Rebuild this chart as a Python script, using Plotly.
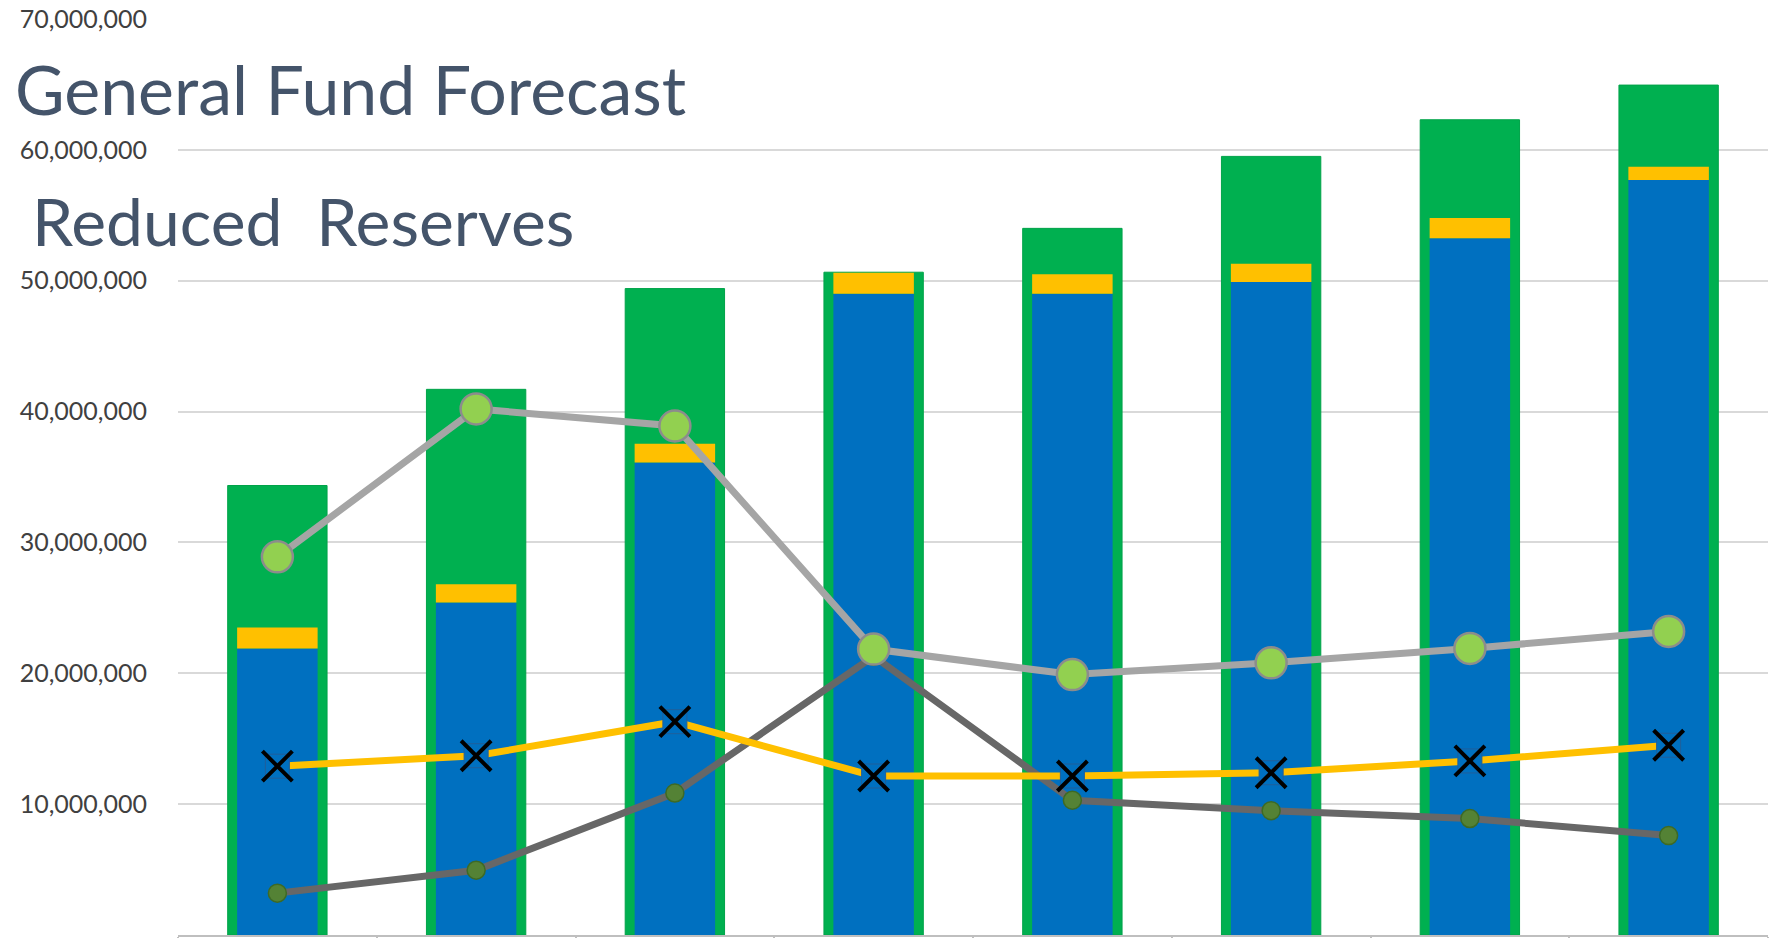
import plotly.graph_objects as go

categories = ["Year 1", "Year 2", "Year 3", "Year 4", "Year 5", "Year 6", "Year 7", "Year 8"]
total_resources = [34.35e6, 41.7e6, 49.4e6, 50.65e6, 54.0e6, 59.5e6, 62.3e6, 64.95e6]
expenditures = [21.9e6, 25.4e6, 36.1e6, 49.0e6, 49.0e6, 49.9e6, 53.25e6, 57.7e6]
reserve_transfer = [1.6e6, 1.4e6, 1.45e6, 1.6e6, 1.5e6, 1.4e6, 1.55e6, 1.0e6]
fund_balance = [28.9e6, 40.2e6, 38.9e6, 21.85e6, 19.9e6, 20.8e6, 21.9e6, 23.2e6]
unassigned = [3.2e6, 4.95e6, 10.85e6, 21.3e6, 10.3e6, 9.5e6, 8.9e6, 7.6e6]
reserve_target = [12.9e6, 13.7e6, 16.3e6, 12.15e6, 12.15e6, 12.4e6, 13.3e6, 14.5e6]

tick_vals = [0, 10e6, 20e6, 30e6, 40e6, 50e6, 60e6, 70e6]
tick_text = ["-", "10,000,000", "20,000,000", "30,000,000", "40,000,000",
             "50,000,000", "60,000,000", "70,000,000"]

GREEN = "#00B050"
BLUE = "#0070C0"
YELLOW = "#FFC000"
LGREEN = "#92D050"
LGRAY = "#A5A5A5"
DGRAY = "#676767"
DGREEN = "#548235"

fig = go.Figure()
fig.add_trace(go.Bar(x=categories, y=total_resources, width=0.5,
                     marker=dict(color=GREEN, line=dict(color="#00A349", width=1)),
                     name="Total Resources"))
fig.add_trace(go.Bar(x=categories, y=expenditures, width=0.405,
                     marker=dict(color=BLUE, line=dict(width=0)), name="Expenditures"))
fig.add_trace(go.Bar(x=categories, y=reserve_transfer, base=expenditures, width=0.405,
                     marker=dict(color=YELLOW, line=dict(width=0)), name="Transfer"))

fig.add_trace(go.Scatter(x=categories, y=unassigned, mode="lines+markers",
                         line=dict(color=DGRAY, width=7),
                         marker=dict(symbol="circle", size=18, color=DGREEN,
                                     line=dict(color="#3E6A25", width=1.5)),
                         name="Unassigned"))
fig.add_trace(go.Scatter(x=categories, y=fund_balance, mode="lines+markers",
                         line=dict(color=LGRAY, width=7),
                         marker=dict(symbol="circle", size=31, color=LGREEN,
                                     line=dict(color="#8C8C8C", width=2.5)),
                         name="Fund Balance"))
fig.add_trace(go.Scatter(x=categories, y=reserve_target, mode="lines+markers",
                         line=dict(color=YELLOW, width=7),
                         marker=dict(symbol="square", size=24, color=BLUE,
                                     line=dict(color="#1F5F9A", width=1)),
                         name="Reserve Target"))
fig.add_trace(go.Scatter(x=categories, y=reserve_target, mode="markers",
                         marker=dict(symbol="x-thin", size=30,
                                     line=dict(color="#000000", width=4)),
                         showlegend=False, hoverinfo="skip"))

fig.update_layout(
    width=1779, height=938,
    margin=dict(l=178, r=11, t=19, b=3, autoexpand=False),
    paper_bgcolor="white", plot_bgcolor="white",
    barmode="overlay",
    showlegend=False,
    font=dict(family="Lato, 'Open Sans', sans-serif", color="#404040"),
    annotations=[
        dict(text="General Fund Forecast", xref="paper", yref="paper",
             x=-0.104, y=0.924, xanchor="left", yanchor="middle", showarrow=False,
             font=dict(family="Lato, sans-serif", size=68, color="#44546A")),
        dict(text="Reduced\u00a0\u00a0Reserves", xref="paper", yref="paper",
             x=-0.093, y=0.7795, xanchor="left", yanchor="middle", showarrow=False,
             font=dict(family="Lato, sans-serif", size=66, color="#44546A")),
    ],
)
fig.update_xaxes(type="category", showticklabels=False, tickson="boundaries",
                 ticks="outside", ticklen=6, tickcolor="#BFBFBF", tickwidth=2,
                 showline=True, linecolor="#BFBFBF", linewidth=2, showgrid=False,
                 zeroline=False, range=[-0.5, 7.5], automargin=False)
fig.update_yaxes(range=[0, 70e6], tickvals=tick_vals, ticktext=tick_text,
                 showgrid=True, gridcolor="#D9D9D9", gridwidth=2, zeroline=False,
                 showline=False, ticks="", ticklabelstandoff=30, automargin=False,
                 tickfont=dict(size=25, color="#404040"))

fig.write_html("out.html")
